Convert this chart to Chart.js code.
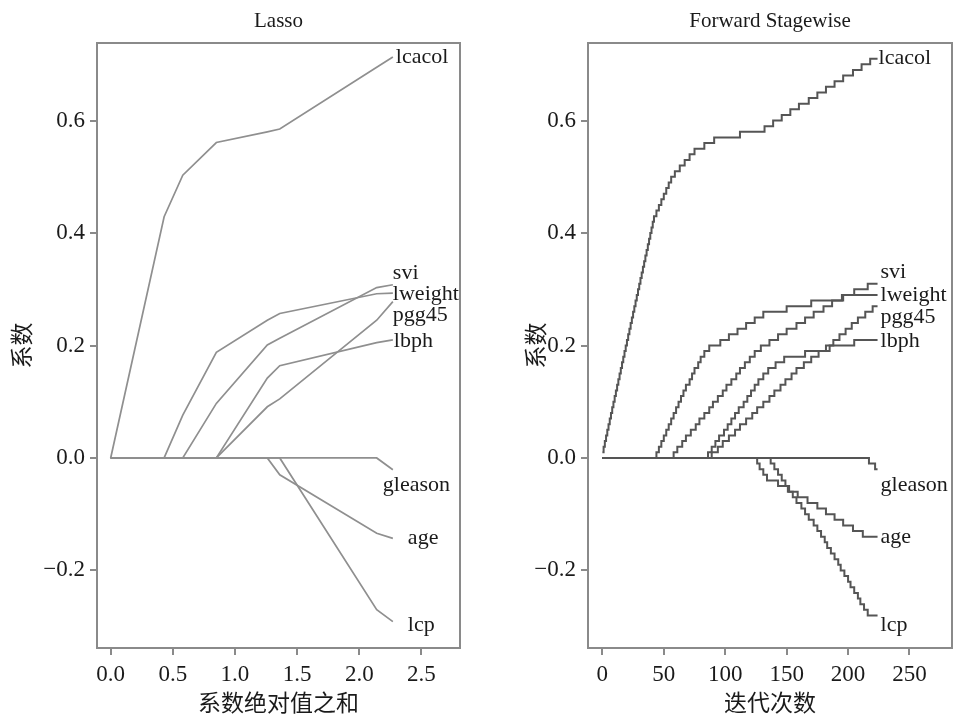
<!DOCTYPE html>
<html>
<head>
<meta charset="utf-8">
<script src="https://cdn.jsdelivr.net/npm/chart.js@4.4.1/dist/chart.umd.min.js"></script>
<style>
  html, body { margin: 0; padding: 0; background: #fff; overflow: hidden; }
  #wrap { position: absolute; left: 0; top: 0; width: 953px; height: 716px; }
  #wrap canvas { position: absolute; top: 0; }
</style>
</head>
<body>
<div id="wrap">
  <canvas id="lasso"></canvas>
  <canvas id="stagewise"></canvas>
</div>
<script>
const H = 716;

const coefTicks = [-0.2, 0, 0.2, 0.4, 0.6];
const lassoTicks = [0, 0.5, 1, 1.5, 2, 2.5];
const stageTicks = [0, 50, 100, 150, 200, 250];

// Lasso path: knots in sum of |coef|, coefficient at each knot
const lassoSum     = [0, 0.43, 0.58, 0.85, 1.26, 1.36, 2.14, 2.27];
const lassoLcacol  = [0, 0.429, 0.503, 0.561, 0.580, 0.585, 0.695, 0.713];
const lassoSvi     = [0, 0, 0, 0.097, 0.201, 0.213, 0.303, 0.308];
const lassoLweight = [0, 0, 0.076, 0.188, 0.245, 0.257, 0.292, 0.293];
const lassoPgg45   = [0, 0, 0, 0, 0.091, 0.105, 0.245, 0.278];
const lassoLbph    = [0, 0, 0, 0, 0.142, 0.164, 0.205, 0.210];
const lassoGleason = [0, 0, 0, 0, 0, 0, 0, -0.021];
const lassoAge     = [0, 0, 0, 0, 0, -0.030, -0.134, -0.143];
const lassoLcp     = [0, 0, 0, 0, 0, 0, -0.270, -0.291];

// Forward stagewise: [iteration, coefficient] wherever the coefficient changes
const stageLcacol = [[0,.01],[1,.02],[2,.03],[3,.04],[4,.05],[5,.06],[6,.07],[7,.08],[8,.09],[9,.10],
  [10,.11],[11,.12],[12,.13],[13,.14],[14,.15],[15,.16],[16,.17],[17,.18],[18,.19],[19,.20],
  [20,.21],[21,.22],[22,.23],[23,.24],[24,.25],[25,.26],[26,.27],[27,.28],[28,.29],[29,.30],
  [30,.31],[31,.32],[32,.33],[33,.34],[34,.35],[35,.36],[36,.37],[37,.38],[38,.39],[39,.40],
  [40,.41],[41,.42],[42,.43],[44,.44],[46,.45],[48,.46],[50,.47],[52,.48],[54,.49],[56,.50],
  [59,.51],[63,.52],[67,.53],[71,.54],[75,.55],[83,.56],[91,.57],[112,.58],[132,.59],[139,.60],
  [146,.61],[153,.62],[160,.63],[168,.64],[175,.65],[182,.66],[189,.67],[196,.68],[204,.69],
  [211,.70],[218,.71],[224,.71]];
const stageSvi = [[0,0],[58,.01],[61,.02],[65,.03],[68,.04],[72,.05],[76,.06],[79,.07],[83,.08],
  [87,.09],[90,.10],[94,.11],[98,.12],[101,.13],[105,.14],[109,.15],[112,.16],[116,.17],[120,.18],
  [124,.19],[129,.20],[136,.21],[143,.22],[150,.23],[158,.24],[165,.25],[172,.26],[180,.27],
  [187,.28],[195,.29],[205,.30],[216,.31],[224,.31]];
const stageLweight = [[0,0],[44,.01],[46,.02],[48,.03],[50,.04],[52,.05],[54,.06],[56,.07],[58,.08],
  [60,.09],[62,.10],[64,.11],[66,.12],[68,.13],[71,.14],[73,.15],[75,.16],[78,.17],[80,.18],
  [83,.19],[87,.20],[96,.21],[103,.22],[110,.23],[117,.24],[124,.25],[131,.26],[150,.27],
  [170,.28],[196,.29],[224,.29]];
const stagePgg45 = [[0,0],[89,.01],[94,.02],[98,.03],[103,.04],[108,.05],[112,.06],[117,.07],
  [122,.08],[126,.09],[131,.10],[136,.11],[140,.12],[145,.13],[149,.14],[154,.15],[158,.16],
  [164,.17],[170,.18],[176,.19],[182,.20],[188,.21],[193,.22],[198,.23],[203,.24],[208,.25],
  [214,.26],[220,.27],[224,.27]];
const stageLbph = [[0,0],[86,.01],[89,.02],[92,.03],[95,.04],[99,.05],[102,.06],[105,.07],[108,.08],
  [111,.09],[115,.10],[118,.11],[121,.12],[124,.13],[127,.14],[131,.15],[135,.16],[141,.17],
  [148,.18],[165,.19],[185,.20],[205,.21],[224,.21]];
const stageGleason = [[0,0],[217,-.01],[222,-.02],[224,-.02]];
const stageAge = [[0,0],[126,-.01],[128,-.02],[131,-.03],[134,-.04],[143,-.05],[151,-.06],
  [159,-.07],[167,-.08],[175,-.09],[182,-.10],[189,-.11],[196,-.12],[204,-.13],[212,-.14],[224,-.14]];
const stageLcp = [[0,0],[137,-.01],[140,-.02],[143,-.03],[146,-.04],[149,-.05],[152,-.06],[155,-.07],
  [158,-.08],[162,-.09],[165,-.10],[168,-.11],[172,-.12],[175,-.13],[178,-.14],[181,-.15],
  [183,-.16],[186,-.17],[189,-.18],[192,-.19],[194,-.20],[197,-.21],[200,-.22],[202,-.23],
  [205,-.24],[208,-.25],[210,-.26],[213,-.27],[216,-.28],[224,-.28]];

const SERIF = '"Liberation Serif", "DejaVu Serif", serif';
const CJK = '"Noto Sans CJK SC", sans-serif';
const TEXT = '#1a1a1a';
const AXIS = '#8a8a8a';

// box around the plot area
const framePlugin = {
  id: 'frame',
  beforeDatasetsDraw(chart) {
    const { ctx, chartArea: a } = chart;
    ctx.save();
    ctx.strokeStyle = AXIS;
    ctx.lineWidth = 2;
    ctx.strokeRect(a.left, a.top, a.right - a.left, a.bottom - a.top);
    ctx.restore();
  }
};

// variable names at the right end of each path
const endLabelPlugin = {
  id: 'endLabels',
  afterDatasetsDraw(chart, args, opts) {
    const ctx = chart.ctx;
    ctx.save();
    ctx.font = opts.font;
    ctx.fillStyle = TEXT;
    ctx.textBaseline = 'middle';
    chart.data.datasets.forEach((ds, i) => {
      const pts = chart.getDatasetMeta(i).data;
      const p = pts[pts.length - 1];
      const off = opts.offsets[ds.label] || [0, 0];
      ctx.fillText(ds.label, p.x + off[0], p.y + off[1]);
    });
    ctx.restore();
  }
};

function fmtCoef(v) {
  return (v < 0 ? '\u2212' : '') + Math.abs(v).toFixed(1);
}

function buildChart(id, o) {
  const cv = document.getElementById(id);
  cv.width = o.width;
  cv.height = H;
  cv.style.left = o.left + 'px';
  return new Chart(cv, {
    type: 'line',
    data: { datasets: o.datasets },
    plugins: [framePlugin, endLabelPlugin],
    options: {
      responsive: false,
      animation: false,
      devicePixelRatio: 1,
      layout: { padding: { left: 0, right: o.width - o.plotRight, top: 0, bottom: 0 } },
      elements: { point: { radius: 0 }, line: { tension: 0 } },
      plugins: {
        legend: { display: false },
        tooltip: { enabled: false },
        title: {
          display: true, text: o.title, color: TEXT, fullSize: false,
          font: { family: SERIF, size: 21, weight: 'normal', lineHeight: 1.2 },
          padding: { top: 9, bottom: 8.8 }
        },
        endLabels: { font: '22px ' + SERIF, offsets: o.offsets }
      },
      scales: {
        x: {
          type: 'linear', min: o.xMin, max: o.xMax,
          afterBuildTicks: s => { s.ticks = o.xTicks.map(v => ({ value: v })); },
          afterFit: s => { s.height = H - 648; },
          ticks: { color: TEXT, padding: 6, maxRotation: 0, font: { family: SERIF, size: 23 },
                   callback: o.xFormat },
          grid: { drawOnChartArea: false, color: AXIS, lineWidth: 2, tickLength: 7 },
          border: { display: false },
          title: { display: true, text: o.xTitle, color: TEXT,
                   font: { family: CJK, size: 23, lineHeight: 1.2 }, padding: { top: 0, bottom: 0 } }
        },
        y: {
          type: 'linear', min: -0.338, max: 0.738,
          afterBuildTicks: s => { s.ticks = coefTicks.map(v => ({ value: v })); },
          afterFit: s => { s.width = o.plotLeft; },
          ticks: { color: TEXT, padding: 5, font: { family: SERIF, size: 23 }, callback: fmtCoef },
          grid: { drawOnChartArea: false, color: AXIS, lineWidth: 2, tickLength: 7 },
          border: { display: false },
          title: { display: true, text: '系数', color: TEXT,
                   font: { family: CJK, size: 23, lineHeight: 1.2 }, padding: { top: o.yTitlePad, bottom: 0 } }
        }
      }
    }
  });
}

const names = ['lcacol', 'svi', 'lweight', 'pgg45', 'lbph', 'gleason', 'age', 'lcp'];

const lassoSeries = [lassoLcacol, lassoSvi, lassoLweight, lassoPgg45, lassoLbph, lassoGleason, lassoAge, lassoLcp];
const lassoSets = lassoSeries.map((vals, k) => ({
  label: names[k],
  data: lassoSum.map((s, i) => ({ x: s, y: vals[i] })),
  borderColor: '#8f8f8f',
  borderWidth: 1.7
}));

// each coefficient holds its value until the next listed iteration
const stageSeries = [stageLcacol, stageSvi, stageLweight, stagePgg45, stageLbph, stageGleason, stageAge, stageLcp];
const stageSets = stageSeries.map((pairs, k) => ({
  label: names[k],
  data: pairs.map(p => ({ x: p[0], y: p[1] })),
  borderColor: '#555555',
  borderWidth: 2,
  stepped: 'before'
}));

buildChart('lasso', {
  left: 0, width: 476, plotLeft: 97, plotRight: 460, yTitlePad: 7,
  title: 'Lasso', xTitle: '系数绝对值之和',
  xMin: -0.11, xMax: 2.81, xTicks: lassoTicks,
  xFormat: v => v.toFixed(1),
  datasets: lassoSets,
  offsets: {
    lcacol: [3, 0], svi: [0, -12], lweight: [0, 1], pgg45: [0, 14],
    lbph: [1, 1], gleason: [-10, 15], age: [15, 0], lcp: [15, 4]
  }
});

buildChart('stagewise', {
  left: 476, width: 477, plotLeft: 112, plotRight: 476, yTitlePad: 45,
  title: 'Forward Stagewise', xTitle: '迭代次数',
  xMin: -11.7, xMax: 284.6, xTicks: stageTicks,
  xFormat: v => String(v),
  datasets: stageSets,
  offsets: {
    lcacol: [1, -1], svi: [3, -11], lweight: [3, 0], pgg45: [3, 11],
    lbph: [3, 1], gleason: [3, 16], age: [3, 1], lcp: [3, 10]
  }
});
</script>
</body>
</html>
